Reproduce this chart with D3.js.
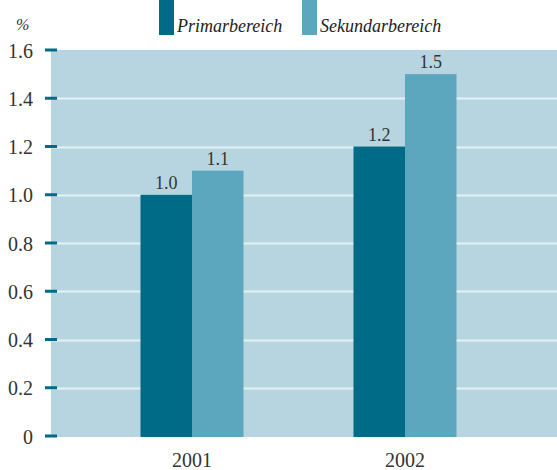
<!DOCTYPE html>
<html><head><meta charset="utf-8">
<script src="https://cdn.jsdelivr.net/npm/d3@7"></script>
<style>body{margin:0;background:#fff}svg{display:block}</style>
</head><body>
<svg id="c" width="557" height="470"></svg>
<script>
const years = ["2001", "2002"];
const seriesNames = ["Primarbereich", "Sekundarbereich"];
const primar = [1.0, 1.2];
const sekundar = [1.1, 1.5];
const yTicks = [0, 0.2, 0.4, 0.6, 0.8, 1.0, 1.2, 1.4, 1.6];
const valueLabels = [["1.0", "1.2"], ["1.1", "1.5"]];

const colors = ["#006b87", "#5ca7bd"];
const serif = "'Liberation Serif', 'Times New Roman', serif";
const svg = d3.select("#c");
const plotL = 51, plotR = 557, plotT = 50, plotB = 437;

const y = d3.scaleLinear().domain([0, 1.6]).range([436, 50]);
const x0 = d3.scaleBand().domain(years).range([85.5, 511.5]).padding(0);
const x1 = d3.scaleBand().domain(seriesNames).range([55, 158]).padding(0);

svg.append("rect").attr("x", plotL).attr("y", plotT).attr("width", plotR - plotL).attr("height", plotB - plotT).attr("fill", "#b7d5e0");

// gridlines
svg.append("g").selectAll("line").data(yTicks.filter(d => d > 0 && d < 1.6)).join("line")
  .attr("x1", plotL).attr("x2", plotR)
  .attr("y1", d => Math.round(y(d)) + 0.5).attr("y2", d => Math.round(y(d)) + 0.5)
  .attr("stroke", "#e6f1f5").attr("stroke-width", 2);

// y axis
const yAxis = d3.axisLeft(y).tickValues(yTicks).tickSize(0).tickPadding(0)
  .tickFormat(d => d === 0 ? "0" : d3.format(".1f")(d));
const ga = svg.append("g").attr("transform", "translate(33,0)").call(yAxis);
ga.select(".domain").remove();
ga.attr("font-family", null).attr("font-size", null);
ga.selectAll("text").style("font-family", serif).style("font-size", "20px").attr("fill", "#333").attr("dy", "0.35em").attr("x", 0);
svg.append("g").selectAll("rect").data(yTicks).join("rect")
  .attr("x", 45).attr("width", 12).attr("y", d => y(d) - 1.5).attr("height", 3).attr("fill", "#006b87");

// bars
const data = years.map((yr, i) => ({ year: yr, vals: [primar[i], sekundar[i]] }));
const groups = svg.append("g").selectAll("g").data(data).join("g")
  .attr("transform", d => `translate(${x0(d.year)},0)`);
groups.selectAll("rect").data(d => d.vals.map((v, j) => ({ v, s: seriesNames[j], j }))).join("rect")
  .attr("x", d => x1(d.s)).attr("width", x1.bandwidth())
  .attr("y", d => y(d.v)).attr("height", d => y(0) - y(d.v) + 1)
  .attr("fill", d => colors[d.j]);
groups.selectAll("text").data((d, i) => d.vals.map((v, j) => ({ v, s: seriesNames[j], lab: valueLabels[j][i] }))).join("text")
  .attr("x", d => x1(d.s) + x1.bandwidth() / 2).attr("y", d => y(d.v) - 6)
  .attr("text-anchor", "middle").style("font-family", serif).style("font-size", "18px").attr("fill", "#333")
  .text(d => d.lab);

// x labels
svg.append("g").selectAll("text").data(years).join("text")
  .attr("x", d => x0(d) + x0.bandwidth() / 2).attr("y", 467)
  .attr("text-anchor", "middle").style("font-family", serif).style("font-size", "20px").attr("fill", "#333")
  .text(d => d);

// % label
svg.append("text").attr("x", 16).attr("y", 30).style("font-family", serif).attr("font-style", "italic").style("font-size", "16px").attr("fill", "#333").text("%");

// legend
const legX = [159, 302];
const leg = svg.append("g").selectAll("g").data(seriesNames).join("g").attr("transform", (d, i) => `translate(${legX[i]},0)`);
leg.append("rect").attr("x", 0).attr("y", 0).attr("width", 15).attr("height", 35).attr("fill", (d, i) => colors[i]);
leg.append("text").attr("x", 18).attr("y", 32).style("font-family", serif).attr("font-style", "italic").style("font-size", "18px").attr("fill", "#222").text(d => d);
</script>
</body></html>
